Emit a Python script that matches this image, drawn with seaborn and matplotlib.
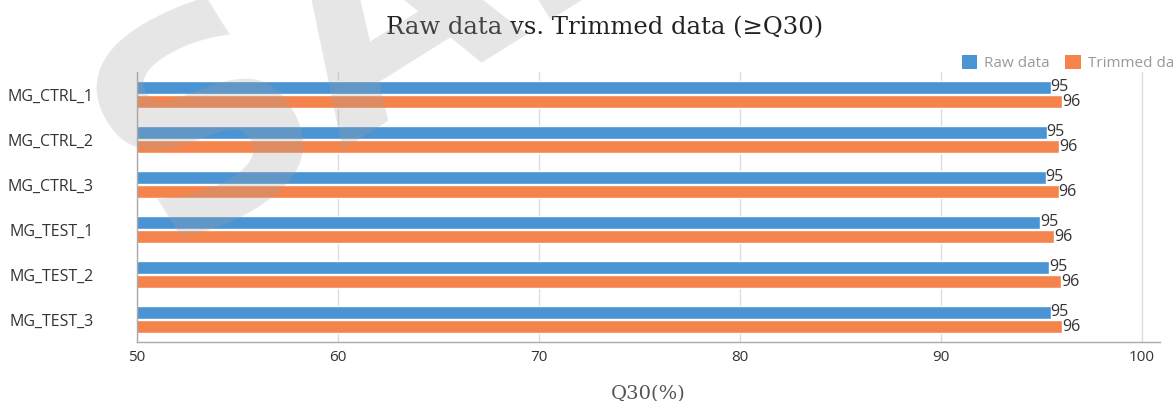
import numpy as np
import pandas as pd
import matplotlib
matplotlib.use('Agg')
import matplotlib.pyplot as plt
from matplotlib.patches import Patch
import seaborn as sns

# Q30 values
samples = ['MG_CTRL_1', 'MG_CTRL_2', 'MG_CTRL_3', 'MG_TEST_1', 'MG_TEST_2', 'MG_TEST_3']
raw_q30 = [95.46, 95.27, 95.22, 94.93, 95.39, 95.46]
trimmed_q30 = [96.02, 95.89, 95.86, 95.64, 95.97, 96.02]
series = ['Raw data', 'Trimmed data']
colors = ['#4b94d3', '#f5844c']

df = pd.DataFrame({
    'Sample': samples * 2,
    'Q30': raw_q30 + trimmed_q30,
    'Type': [series[0]] * len(samples) + [series[1]] * len(samples),
})

sns.set_theme(style='white')
plt.rcParams['font.family'] = ['Open Sans', 'DejaVu Sans']

fig = plt.figure(figsize=(11.73, 4.01), dpi=100)
ax = fig.add_axes([0.1168, 0.147, 0.872, 0.673])

sns.barplot(data=df, y='Sample', x='Q30', hue='Type', palette=colors,
            orient='h', width=0.64, gap=0.08, ax=ax, saturation=1,
            legend=False, zorder=2)

ax.set_xlim(50, 100.9)
ax.set_xticks([50, 60, 70, 80, 90, 100])
ax.xaxis.grid(True, color='#dddddd', lw=1, zorder=0)
ax.yaxis.grid(False)
for s in ['top', 'right']:
    ax.spines[s].set_visible(False)
for s in ['left', 'bottom']:
    ax.spines[s].set_color('#aaaaaa')
    ax.spines[s].set_linewidth(1)
    ax.spines[s].set_zorder(3)
ax.tick_params(axis='x', length=0, labelsize=11, colors='#333333', pad=6)
ax.tick_params(axis='y', length=0, labelsize=11.5, colors='#333333', pad=31)
ax.set_ylabel('')
ax.set_xlabel('Q30(%)', family='DejaVu Serif', fontsize=14, color='#555555', labelpad=14)

for cont in ax.containers:
    ax.bar_label(cont, fmt='%.0f', padding=0, fontsize=11.5, color='#333333')

fig.text(0.515, 0.93, 'Raw data vs. Trimmed data (\u2265Q30)', ha='center', va='center',
         family='DejaVu Serif', fontsize=17.5, color='#222222')

# legend at top right, cut by the figure edge
handles = [Patch(facecolor=c, edgecolor='none') for c in colors]
fig.legend(handles, series, loc='center left', bbox_to_anchor=(0.808, 0.842), ncol=2,
           frameon=False, fontsize=11, handlelength=1.0, handleheight=1.0,
           handletextpad=0.5, columnspacing=1.0, labelcolor='#999999')

# faint watermark over the chart
fig.text(165 / 1173, 1 - 248 / 401, 'SAMPLE', rotation=32, rotation_mode='anchor',
         ha='left', va='baseline', fontsize=205, fontweight='bold',
         family='DejaVu Sans', color='#a0a0a0', alpha=0.26, zorder=10)

fig.savefig('out.png', dpi=100)
